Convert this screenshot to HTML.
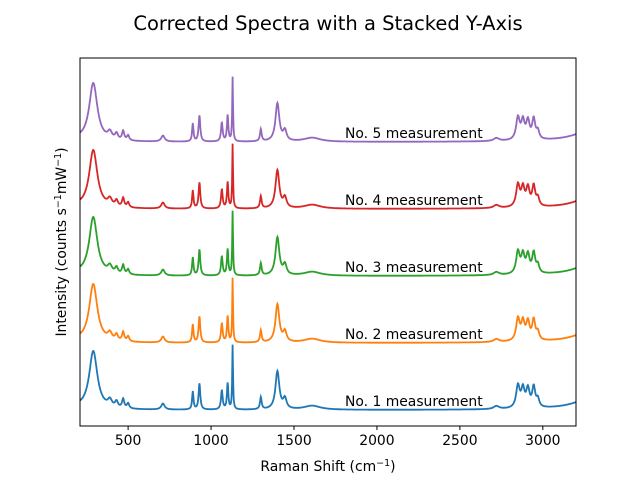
<!DOCTYPE html>
<html><head><meta charset="utf-8"><style>
body{margin:0;background:#fff}
svg{display:block;font-family:"DejaVu Sans","Liberation Sans",sans-serif}
</style></head><body>
<svg id="chart" width="640" height="480">
<rect x="0" y="0" width="640" height="480" fill="#fff"/>
<text x="328" y="30" font-size="19.5" text-anchor="middle">Corrected Spectra with a Stacked Y-Axis</text>
<g id="series"></g>
<g id="labels"></g>
<rect x="80" y="58" width="496" height="368" fill="none" stroke="#000" stroke-width="1"/>
<g id="xticks"></g>
<text x="328" y="471" font-size="13.9" text-anchor="middle">Raman Shift (cm<tspan dy="-5" font-size="9.5">−1</tspan><tspan dy="5">)</tspan></text>
<text transform="translate(66,242) rotate(-90)" font-size="13.9" text-anchor="middle">Intensity (counts s<tspan dy="-5" font-size="9.5">−1</tspan><tspan dy="5">mW</tspan><tspan dy="-5" font-size="9.5">−1</tspan><tspan dy="5">)</tspan></text>
</svg>
<script>
const xTicks=[500,1000,1500,2000,2500,3000];
const peakPos=[120,290,390,430,470,500,710,890,930,1065,1100,1130,1300,1400,1445,1610,2720,2850,2880,2910,2945,2970,3350];
const peakAmp=[14,58,7,6,9,5,6,18,26,19,26,64,12,38,10,4,3,22,18,18,20,8,20];
const peakWid=[40,30,15,10,8,8,12,5,6,6,5,3,6,14,12,60,20,13,12,12,11,10,120];
const offsets=[0,67,134,201,268];
const names=["No. 1 measurement","No. 2 measurement","No. 3 measurement","No. 4 measurement","No. 5 measurement"];
const colors=["#1f77b4","#ff7f0e","#2ca02c","#d62728","#9467bd"];
const xMin=210,xMax=3200,yMin=-16,yMax=352;
const X=v=>80+(v-xMin)/(xMax-xMin)*496;
const Y=v=>426-(v-yMin)/(yMax-yMin)*368;
function spec(x){let s=0;for(let i=0;i<peakPos.length;i++){const d=(x-peakPos[i])/peakWid[i];s+=peakAmp[i]/(1+d*d);}return s;}
const NS="http://www.w3.org/2000/svg";
const sg=document.getElementById('series'),lg=document.getElementById('labels'),xg=document.getElementById('xticks');
offsets.forEach((off,k)=>{
  let d="";
  for(let x=xMin;x<=xMax;x+=2){d+=(x===xMin?"M":"L")+X(x).toFixed(1)+","+Y(spec(x)+off).toFixed(1);}
  const p=document.createElementNS(NS,'path');
  p.setAttribute('d',d);p.setAttribute('fill','none');p.setAttribute('stroke',colors[k]);p.setAttribute('stroke-width','1.8');
  
  
  sg.appendChild(p);
  const t=document.createElementNS(NS,'text');
  t.setAttribute('x',345);t.setAttribute('y',Y(off)-4);t.setAttribute('font-size','13.9');t.textContent=names[k];
  
  
  lg.appendChild(t);
});
xTicks.forEach(v=>{
  const l=document.createElementNS(NS,'line');
  l.setAttribute('x1',X(v));l.setAttribute('x2',X(v));l.setAttribute('y1',426);l.setAttribute('y2',430);l.setAttribute('stroke','#000');
  
  
  xg.appendChild(l);
  const t=document.createElementNS(NS,'text');
  t.setAttribute('x',X(v));t.setAttribute('y',445);t.setAttribute('font-size','13.9');t.setAttribute('text-anchor','middle');t.textContent=v;
  
  
  xg.appendChild(t);
});
</script>
</body></html>
